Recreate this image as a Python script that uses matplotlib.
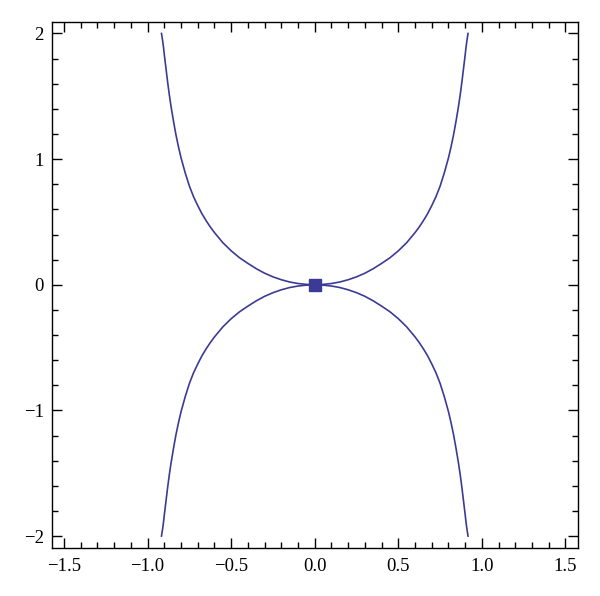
import matplotlib
matplotlib.use("Agg")
import matplotlib.pyplot as plt
from matplotlib.ticker import MultipleLocator, FixedLocator, FixedFormatter

# Right half of the upper curve; the chart is symmetric
half_x = [0.0, 0.05, 0.10, 0.15, 0.20, 0.25, 0.30, 0.35, 0.40, 0.45, 0.50, 0.55, 0.60, 0.625, 0.65, 0.675,
          0.70, 0.725, 0.75, 0.775, 0.80, 0.815, 0.83, 0.845, 0.86, 0.87, 0.88, 0.89, 0.90, 0.905, 0.91, 0.917]
half_y = [0.0, 0.003, 0.01, 0.022, 0.04, 0.063, 0.092, 0.128, 0.17, 0.215, 0.27, 0.335, 0.415, 0.46, 0.51, 0.565,
          0.63, 0.70, 0.785, 0.89, 1.01, 1.095, 1.19, 1.30, 1.42, 1.51, 1.61, 1.72, 1.83, 1.89, 1.94, 2.00]

upper_x = [-v for v in half_x[::-1]] + half_x[1:]
upper_y = half_y[::-1] + half_y[1:]
lower_x = upper_x
lower_y = [-v for v in upper_y]
point_x = [0.0]
point_y = [0.0]

x_ticks = [-1.5, -1.0, -0.5, 0.0, 0.5, 1.0, 1.5]
x_labels = ["\u22121.5", "\u22121.0", "\u22120.5", "0.0", "0.5", "1.0", "1.5"]
y_ticks = [-2, -1, 0, 1, 2]
y_labels = ["\u22122", "\u22121", "0", "1", "2"]

color = "#3b3b96"
plt.rcParams['font.family'] = ['Liberation Serif', 'DejaVu Serif']

fig = plt.figure(figsize=(6.0, 5.96), dpi=100)
ax = fig.add_axes([0.0867, 0.0805, 0.9625 - 0.0867, 0.9639 - 0.0805])

ax.plot(upper_x, upper_y, color=color, lw=1.2, solid_joinstyle='round')
ax.plot(lower_x, lower_y, color=color, lw=1.2, solid_joinstyle='round')
ax.plot(point_x, point_y, marker='s', ms=9, color=color, ls='none')

ax.set_xlim(-1.572, 1.572)
ax.set_ylim(-2.095, 2.095)
ax.xaxis.set_major_locator(FixedLocator(x_ticks))
ax.xaxis.set_major_formatter(FixedFormatter(x_labels))
ax.yaxis.set_major_locator(FixedLocator(y_ticks))
ax.yaxis.set_major_formatter(FixedFormatter(y_labels))
ax.xaxis.set_minor_locator(MultipleLocator(0.1))
ax.yaxis.set_minor_locator(MultipleLocator(0.2))
ax.tick_params(which='both', direction='in', top=True, right=True, width=1.0, labelsize=13.5)
ax.tick_params(which='major', length=7)
ax.tick_params(which='minor', length=4)
ax.tick_params(axis='x', which='major', pad=7)
ax.tick_params(axis='y', which='major', pad=6)
for s in ax.spines.values():
    s.set_linewidth(1.0)

fig.savefig("out.png", dpi=100)
